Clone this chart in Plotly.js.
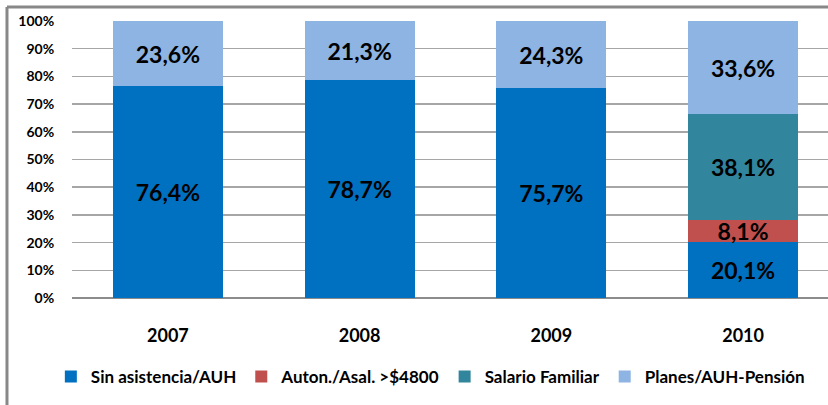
<!DOCTYPE html>
<html>
<head>
<meta charset="utf-8">
<script src="https://cdn.plot.ly/plotly-3.0.1.min.js"></script>
<style>
  html, body { margin: 0; padding: 0; background: #fff; }
  #chart { width: 828px; height: 405px; }
</style>
</head>
<body>
<div id="chart"></div>
<script>
var categories = ['2007', '2008', '2009', '2010'];
var sinAsistencia = [76.4, 78.7, 75.7, 20.1];
var autonAsal = [0, 0, 0, 8.1];
var salarioFamiliar = [0, 0, 0, 38.1];
var planesAUH = [23.6, 21.3, 24.3, 33.6];
var seriesNames = ['Sin asistencia/AUH', 'Auton./Asal. >$4800', 'Salario Familiar', 'Planes/AUH-Pensión'];
var seriesColors = ['#0070C0', '#C0504D', '#31859C', '#8DB4E2'];
var yTickVals = [0, 10, 20, 30, 40, 50, 60, 70, 80, 90, 100];
var yTickText = ['0%', '10%', '20%', '30%', '40%', '50%', '60%', '70%', '80%', '90%', '100%'];

var allSeries = [sinAsistencia, autonAsal, salarioFamiliar, planesAUH];
function fmt(v) { return v > 0 ? '<b>' + v.toFixed(1).replace('.', ',') + '%</b>' : ''; }

var FONT = 'Lato, "Open Sans", sans-serif';
var traces = allSeries.map(function (vals, i) {
  return {
    type: 'bar',
    name: seriesNames[i],
    x: categories,
    y: vals,
    text: vals.map(fmt),
    textposition: 'inside',
    insidetextanchor: 'middle',
    textangle: 0,
    constraintext: 'none',
    textfont: { family: FONT, size: 23, color: '#000', weight: 'bold' },
    marker: { color: seriesColors[i], line: { width: 0 } },
    hoverinfo: 'skip'
  };
});

var layout = {
  width: 828,
  height: 405,
  margin: { l: 72, r: 0, t: 21, b: 107, pad: 0 },
  paper_bgcolor: '#fff',
  plot_bgcolor: '#fff',
  barmode: 'stack',
  bargap: 0.426,
  showlegend: true,
  font: { family: FONT, color: '#000' },
  xaxis: {
    type: 'category',
    range: [-0.5, 3.443],
    showgrid: false,
    zeroline: false,
    showline: false,
    ticks: 'outside',
    ticklen: 21,
    tickcolor: 'rgba(0,0,0,0)',
    tickfont: { family: FONT, size: 18, color: '#000', weight: 'bold' },
    fixedrange: true
  },
  yaxis: {
    range: [0, 100],
    tickvals: yTickVals,
    ticktext: yTickText,
    showgrid: true,
    gridcolor: '#A6A6A6',
    gridwidth: 1.5,
    zeroline: true,
    zerolinecolor: '#8C8C8C',
    zerolinewidth: 2,
    showline: false,
    ticks: 'outside',
    ticklen: 14,
    tickcolor: 'rgba(0,0,0,0)',
    tickfont: { family: FONT, size: 14, color: '#000', weight: 'bold' },
    fixedrange: true
  },
  legend: {
    orientation: 'h',
    x: 0.474,
    xanchor: 'center',
    y: -0.285,
    yanchor: 'middle',
    font: { family: FONT, size: 17, color: '#000', weight: 'bold' },
    itemwidth: 30,
    traceorder: 'normal',
    bgcolor: 'rgba(0,0,0,0)'
  },
  shapes: [
    { type: 'line', xref: 'paper', yref: 'paper', x0: -0.086, x1: 1.02, y0: 1.0505, y1: 1.0505, line: { color: '#888888', width: 3 } },
    { type: 'line', xref: 'paper', yref: 'paper', x0: -0.086, x1: -0.086, y0: 1.0505, y1: -0.4, line: { color: '#888888', width: 3 } }
  ]
};

Plotly.newPlot('chart', traces, layout, { displayModeBar: false, staticPlot: true });
</script>
</body>
</html>
